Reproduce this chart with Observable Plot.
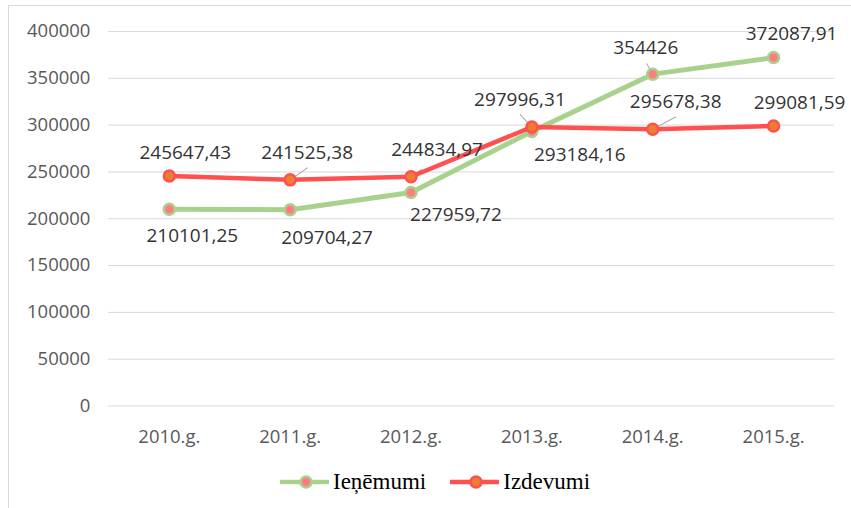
<!DOCTYPE html>
<html><head><meta charset="utf-8">
<script src="https://cdn.jsdelivr.net/npm/d3@7"></script>
<script src="https://cdn.jsdelivr.net/npm/@observablehq/plot@0.6"></script>
<style>
body{margin:0;background:#fff;width:851px;height:508px;overflow:hidden;position:relative;}
#box{position:absolute;left:8px;top:5px;width:900px;height:520px;border:1px solid #d9d9d9;box-sizing:border-box;}
#chart{position:absolute;left:9px;top:6px;}
#legend{position:absolute;left:280px;top:469px;height:26px;display:flex;align-items:center;font-family:"Liberation Serif","Times New Roman",serif;font-size:23px;color:#000;}
#legend .item{display:flex;align-items:center;}
#legend svg{display:block;}
</style></head>
<body>
<div id="box"></div>
<div id="chart"></div>
<div id="legend"></div>
<script>
const years = ["2010.g.", "2011.g.", "2012.g.", "2013.g.", "2014.g.", "2015.g."];
const ienemumi = [210101.25, 209704.27, 227959.72, 293184.16, 354426, 372087.91];
const izdevumi = [245647.43, 241525.38, 244834.97, 297996.31, 295678.38, 299081.59];
const yTicks = [0, 50000, 100000, 150000, 200000, 250000, 300000, 350000, 400000];
const seriesNames = ["Ieņēmumi", "Izdevumi"];

// label placement relative to each point (pixels)
const ienLabelOffset = [[23, 27], [37, 28], [45, 22], [48, 23], [-7, -26], [18, -24]];
const izdLabelOffset = [[16, -23], [17, -27], [26, -27], [-12, -27], [23, -27], [26, -23]];
// leader lines: [series, year index, angle, length]
const leaders = [["Izdevumi", 1, 55, 21], ["Izdevumi", 2, 55, 13], ["Izdevumi", 3, -43, 17], ["Izdevumi", 4, 62, 26], ["Ieņēmumi", 4, -30, 12]];

const green = "#a9d18e", pink = "#ff7c80", red = "#ff5050", orange = "#ed7d31";

const ien = years.map((y, i) => ({year: y, value: ienemumi[i], s: seriesNames[0]}));
const izd = years.map((y, i) => ({year: y, value: izdevumi[i], s: seriesNames[1]}));
const fmt = v => String(v).replace(".", ",");

const lineShape = {draw(context, l) { context.moveTo(0, 0); context.lineTo(0, -l); }};
const leaderData = leaders.map(([s, i, a, l]) => ({year: years[i], value: (s === "Izdevumi" ? izdevumi : ienemumi)[i], a, l}));

const labelMarks = [];
ien.forEach((d, i) => labelMarks.push(Plot.text([d], {x: "year", y: "value", text: d => fmt(d.value), dx: ienLabelOffset[i][0], dy: ienLabelOffset[i][1], fill: "#333333", fontSize: 19})));
izd.forEach((d, i) => labelMarks.push(Plot.text([d], {x: "year", y: "value", text: d => fmt(d.value), dx: izdLabelOffset[i][0], dy: izdLabelOffset[i][1], fill: "#333333", fontSize: 19})));

const leaderMarks = leaderData.map(d => Plot.vector([d], {x: "year", y: "value", rotate: d.a, length: d.l, anchor: "start", shape: lineShape, stroke: "#a6a6a6", strokeWidth: 1}));

const chart = Plot.plot({
  width: 843,
  height: 449,
  marginLeft: 99,
  marginRight: 17,
  marginTop: 25,
  marginBottom: 49,
  style: {fontFamily: "'Open Sans', sans-serif", fontSize: "18.5px", color: "#595959", background: "transparent"},
  x: {type: "point", domain: years, padding: 0.5, tickSize: 0, tickPadding: 24, label: null},
  y: {domain: [0, 400000], ticks: yTicks, tickSize: 0, tickPadding: 18, tickFormat: d3.format("d"), label: null},
  marks: [
    Plot.ruleY(yTicks, {stroke: "#d9d9d9", strokeWidth: 1}),
    Plot.line(ien, {x: "year", y: "value", stroke: green, strokeWidth: 5}),
    ...leaderMarks,
    Plot.dot(ien, {x: "year", y: "value", r: 5.5, fill: pink, stroke: green, strokeWidth: 2.5}),
    Plot.line(izd, {x: "year", y: "value", stroke: red, strokeWidth: 4.5}),
    Plot.dot(izd, {x: "year", y: "value", r: 5.5, fill: orange, stroke: red, strokeWidth: 2.5}),
    ...labelMarks
  ]
});
document.getElementById("chart").append(chart);

const legend = document.getElementById("legend");
const items = [[seriesNames[0], green, pink, 0], [seriesNames[1], red, orange, 24]];
items.forEach(([name, lc, fc, gap]) => {
  const it = document.createElement("div");
  it.className = "item";
  it.style.marginLeft = gap + "px";
  it.innerHTML = `<svg width="49" height="18"><line x1="0" y1="9" x2="49" y2="9" stroke="${lc}" stroke-width="4.5"/><circle cx="26" cy="9" r="5.5" fill="${fc}" stroke="${lc}" stroke-width="2.5"/></svg><span style="margin-left:4px">${name}</span>`;
  legend.append(it);
});
</script>
</body></html>
